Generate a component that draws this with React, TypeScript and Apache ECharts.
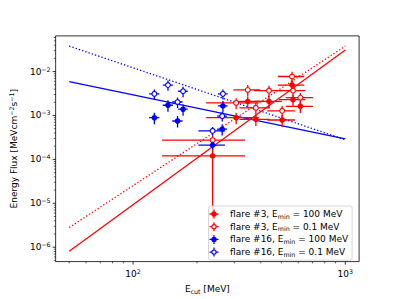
import React, { useEffect, useRef } from 'react';
import * as echarts from 'echarts';

// axis extents (log-log)
const X_MIN = 43.15;
const X_MAX = 1161.6;
const Y_MIN = 4.7e-7;
const Y_MAX = 0.065;

// flare #3 (red)
const redX = [237, 306, 347, 379, 437, 504, 561, 567, 614];
const redXErr = [100, 85, 50, 62, 65, 75, 80, 80, 90];
const red100Y = [1.2e-4, 8.9e-4, 2.09e-3, 8.17e-4, 2.09e-3, 7.89e-4, 4.94e-3, 2.29e-3, 1.62e-3];
const red100YErr = [1.16e-4, 2.6e-4, 6e-4, 2.4e-4, 6e-4, 2.4e-4, 1.4e-3, 6.5e-4, 4.8e-4];
const red01Y = [2.74e-4, 1.93e-3, 3.82e-3, 1.49e-3, 3.69e-3, 1.28e-3, 7.73e-3, 3.69e-3, 2.54e-3];
const red01YErr = [0.8e-4, 5.5e-4, 1.1e-3, 4.3e-4, 1.05e-3, 3.7e-4, 2.2e-3, 1.05e-3, 7.3e-4];

// flare #16 (blue)
const blueX = [126, 146, 162, 172, 237, 263, 265];
const blueXErr = [7, 8, 9, 9, 34, 14, 14];
const blue100Y = [8.9e-4, 1.71e-3, 7.5e-4, 1.39e-3, 2.11e-4, 4.89e-4, 1.65e-3];
const blue100YErr = [2.6e-4, 5e-4, 2.2e-4, 4e-4, 4.5e-5, 1.4e-4, 4.8e-4];
const blue01Y = [3.11e-3, 4.94e-3, 2.03e-3, 3.57e-3, 4.48e-4, 9.68e-4, 3.11e-3];
const blue01YErr = [8e-4, 1.3e-3, 5.5e-4, 9.5e-4, 1e-4, 2.4e-4, 8e-4];

// power-law fits, endpoints
const fitX = [50, 1000];
const red100Fit = [8.05e-7, 3.1e-2];
const red01Fit = [2.8e-6, 3.8e-2];
const blue100Fit = [5.9e-3, 2.95e-4];
const blue01Fit = [3.8e-2, 2.8e-4];

// ticks
const xMajorTicks = [100, 1000];
const xMinorTicks = [50, 60, 70, 80, 90, 200, 300, 400, 500, 600, 700, 800, 900];
const yMajorTicks = [1e-6, 1e-5, 1e-4, 1e-3, 1e-2];
const yMinorMantissa = [2, 3, 4, 5, 6, 7, 8, 9];
const yDecades = [-7, -6, -5, -4, -3, -2];

const NAMES = [
  'flare #3, E_min = 100 MeV',
  'flare #3, E_min = 0.1 MeV',
  'flare #16, E_min = 100 MeV',
  'flare #16, E_min = 0.1 MeV',
];

const RED = '#ff0000';
const BLUE = '#0000ff';
const FONT = 'DejaVu Sans';

const FILLED_ICON =
  'path://M0 8.6L20 8.6L20 11.4L0 11.4Z M8.6 0L11.4 0L11.4 20L8.6 20Z M4 10A6 6 0 1 1 16 10A6 6 0 1 1 4 10Z';
const OPEN_ICON =
  'path://M0 8.6L4.6 8.6L4.6 11.4L0 11.4Z M15.4 8.6L20 8.6L20 11.4L15.4 11.4Z M8.6 0L11.4 0L11.4 4.6L8.6 4.6Z M8.6 15.4L11.4 15.4L11.4 20L8.6 20Z M4 10A6 6 0 1 1 16 10A6 6 0 1 1 4 10Z M6.5 10A3.5 3.5 0 1 0 13.5 10A3.5 3.5 0 1 0 6.5 10Z';

const rich = {
  b: { fontSize: 9, lineHeight: 12, fontFamily: FONT, color: '#000' },
  sup: { fontSize: 6.3, lineHeight: 7, padding: [0, 0, 5, 0], fontFamily: FONT, color: '#000' },
  sub: { fontSize: 6.3, lineHeight: 7, padding: [4, 0, 0, 0], fontFamily: FONT, color: '#000' },
};

function powLabel(v: number): string {
  const e = Math.round(Math.log10(v));
  if (Math.abs(Math.log10(v) - e) > 1e-6) return '';
  const es = e < 0 ? '\u2212' + String(-e) : String(e);
  return '{b|10}{sup|' + es + '}';
}

function errRender(color: string, open: boolean) {
  return (params: any, api: any) => {
    const x = api.value(0);
    const y = api.value(1);
    const xe = api.value(2);
    const ye = api.value(3);
    const c = api.coord([x, y]);
    const l = api.coord([Math.max(x - xe, X_MIN / 10), y]);
    const r = api.coord([x + xe, y]);
    const t = api.coord([x, y + ye]);
    const b = api.coord([x, Math.max(y - ye, Y_MIN / 100)]);
    const lw = 1.3;
    return {
      type: 'group',
      children: [
        { type: 'line', shape: { x1: l[0], y1: c[1], x2: r[0], y2: c[1] }, style: { stroke: color, lineWidth: lw } },
        { type: 'line', shape: { x1: c[0], y1: t[1], x2: c[0], y2: b[1] }, style: { stroke: color, lineWidth: lw } },
        open
          ? { type: 'circle', shape: { cx: c[0], cy: c[1], r: 2.4 }, style: { fill: '#fff', stroke: color, lineWidth: 1.1 } }
          : { type: 'circle', shape: { cx: c[0], cy: c[1], r: 2.8 }, style: { fill: color } },
      ],
    };
  };
}

function zip4(xs: number[], xe: number[], ys: number[], ye: number[]) {
  return xs.map((x, i) => [x, ys[i], xe[i], ye[i]]);
}

export default function App() {
  const ref = useRef<HTMLDivElement>(null);
  useEffect(() => {
    if (!ref.current) return;
    const chart = echarts.init(ref.current, undefined, { renderer: 'svg' });

    const yMinorTicks: number[] = [];
    yDecades.forEach((d) => yMinorMantissa.forEach((m) => {
      const v = m * Math.pow(10, d);
      if (v > Y_MIN && v < Y_MAX) yMinorTicks.push(v);
    }));

    const xTickData = [
      ...xMajorTicks.map((v) => [v, Y_MIN, 1]),
      ...xMinorTicks.map((v) => [v, Y_MIN, 0]),
    ];
    const yTickData = [
      ...yMajorTicks.map((v) => [X_MIN, v, 1]),
      ...yMinorTicks.map((v) => [X_MIN, v, 0]),
    ];

    const fitLine = (name: string, ys: number[], color: string, dotted: boolean) => ({
      type: 'line',
      name,
      data: fitX.map((x, i) => [x, ys[i]]),
      showSymbol: false,
      symbol: 'none',
      silent: true,
      lineStyle: { color, width: 1.3, type: dotted ? [1.3, 2.1] : 'solid', cap: 'butt' },
      z: 2,
    });

    const legendFmt = (name: string) => {
      const [pre, post] = name.split('E_min');
      return '{b|' + pre + 'E}{sub|min}{b|' + post + '}';
    };

    chart.setOption({
      animation: false,
      textStyle: { fontFamily: FONT },
      grid: {
        left: 49.9,
        top: 35.9,
        width: 309.2,
        height: 230.2,
        show: true,
        borderColor: '#000',
        borderWidth: 0.8,
        backgroundColor: 'transparent',
        containLabel: false,
      },
      xAxis: {
        type: 'log',
        logBase: 10,
        min: X_MIN,
        max: X_MAX,
        axisLine: { show: false },
        axisTick: { show: false },
        splitLine: { show: false },
        minorTick: { show: false },
        axisLabel: {
          margin: 6,
          formatter: (v: number) => powLabel(v),
          rich,
          showMinLabel: false,
          showMaxLabel: false,
        },
        name: '{b|E}{sub|cut}{b| [MeV]}',
        nameLocation: 'middle',
        nameGap: 16,
        nameTextStyle: { rich },
      },
      yAxis: {
        type: 'log',
        logBase: 10,
        min: Y_MIN,
        max: Y_MAX,
        axisLine: { show: false },
        axisTick: { show: false },
        splitLine: { show: false },
        minorTick: { show: false },
        axisLabel: {
          margin: 5,
          formatter: (v: number) => powLabel(v),
          rich,
          showMinLabel: false,
          showMaxLabel: false,
        },
        name: '{b|Energy Flux [MeVcm}{sup|\u22122}{b|s}{sup|\u22121}{b|]}',
        nameLocation: 'middle',
        nameGap: 31,
        nameRotate: 90,
        nameTextStyle: { rich },
      },
      legend: {
        data: [
          { name: NAMES[0], icon: FILLED_ICON, itemStyle: { color: RED, borderWidth: 0 } },
          { name: NAMES[1], icon: OPEN_ICON, itemStyle: { color: RED, borderWidth: 0 } },
          { name: NAMES[2], icon: FILLED_ICON, itemStyle: { color: BLUE, borderWidth: 0 } },
          { name: NAMES[3], icon: OPEN_ICON, itemStyle: { color: BLUE, borderWidth: 0 } },
        ],
        orient: 'vertical',
        left: 208.5,
        top: 206,
        itemWidth: 22,
        itemHeight: 9,
        itemGap: 2.7,
        padding: [3, 4, 3, 1],
        backgroundColor: 'rgba(255,255,255,0.85)',
        borderColor: '#cccccc',
        borderWidth: 0.8,
        borderRadius: 2,
        selectedMode: false,
        formatter: legendFmt,
        textStyle: { rich, fontSize: 9, fontFamily: FONT, color: '#000' },
        z: 10,
      },
      series: [
        fitLine('fit r100', red100Fit, RED, false),
        fitLine('fit r01', red01Fit, RED, true),
        fitLine('fit b100', blue100Fit, BLUE, false),
        fitLine('fit b01', blue01Fit, BLUE, true),
        {
          type: 'custom',
          name: NAMES[0],
          renderItem: errRender(RED, false),
          encode: { x: 0, y: 1 },
          data: zip4(redX, redXErr, red100Y, red100YErr),
          clip: true,
          silent: true,
          z: 3,
        },
        {
          type: 'custom',
          name: NAMES[1],
          renderItem: errRender(RED, true),
          encode: { x: 0, y: 1 },
          data: zip4(redX, redXErr, red01Y, red01YErr),
          clip: true,
          silent: true,
          z: 3,
        },
        {
          type: 'custom',
          name: NAMES[2],
          renderItem: errRender(BLUE, false),
          encode: { x: 0, y: 1 },
          data: zip4(blueX, blueXErr, blue100Y, blue100YErr),
          clip: true,
          silent: true,
          z: 3,
        },
        {
          type: 'custom',
          name: NAMES[3],
          renderItem: errRender(BLUE, true),
          encode: { x: 0, y: 1 },
          data: zip4(blueX, blueXErr, blue01Y, blue01YErr),
          clip: true,
          silent: true,
          z: 3,
        },
        {
          type: 'custom',
          name: 'xticks',
          silent: true,
          clip: false,
          encode: { x: 0, y: 1 },
          data: xTickData,
          renderItem: (params: any, api: any) => {
            const cs = params.coordSys;
            const px = api.coord([api.value(0), Y_MIN])[0];
            const major = api.value(2) === 1;
            const bottom = cs.y + cs.height;
            return {
              type: 'line',
              shape: { x1: px, y1: bottom, x2: px, y2: bottom + (major ? 3 : 1.8) },
              style: { stroke: '#000', lineWidth: major ? 0.8 : 0.6 },
            };
          },
        },
        {
          type: 'custom',
          name: 'yticks',
          silent: true,
          clip: false,
          encode: { x: 0, y: 1 },
          data: yTickData,
          renderItem: (params: any, api: any) => {
            const cs = params.coordSys;
            const py = api.coord([X_MIN, api.value(1)])[1];
            const major = api.value(2) === 1;
            return {
              type: 'line',
              shape: { x1: cs.x, y1: py, x2: cs.x - (major ? 3 : 1.8), y2: py },
              style: { stroke: '#000', lineWidth: major ? 0.8 : 0.6 },
            };
          },
        },
      ],
    });
    return () => chart.dispose();
  }, []);
  return (
    <div
      ref={ref}
      style={{ position: 'fixed', left: 0, top: 0, width: 399, height: 299, background: '#fff' }}
    />
  );
}
